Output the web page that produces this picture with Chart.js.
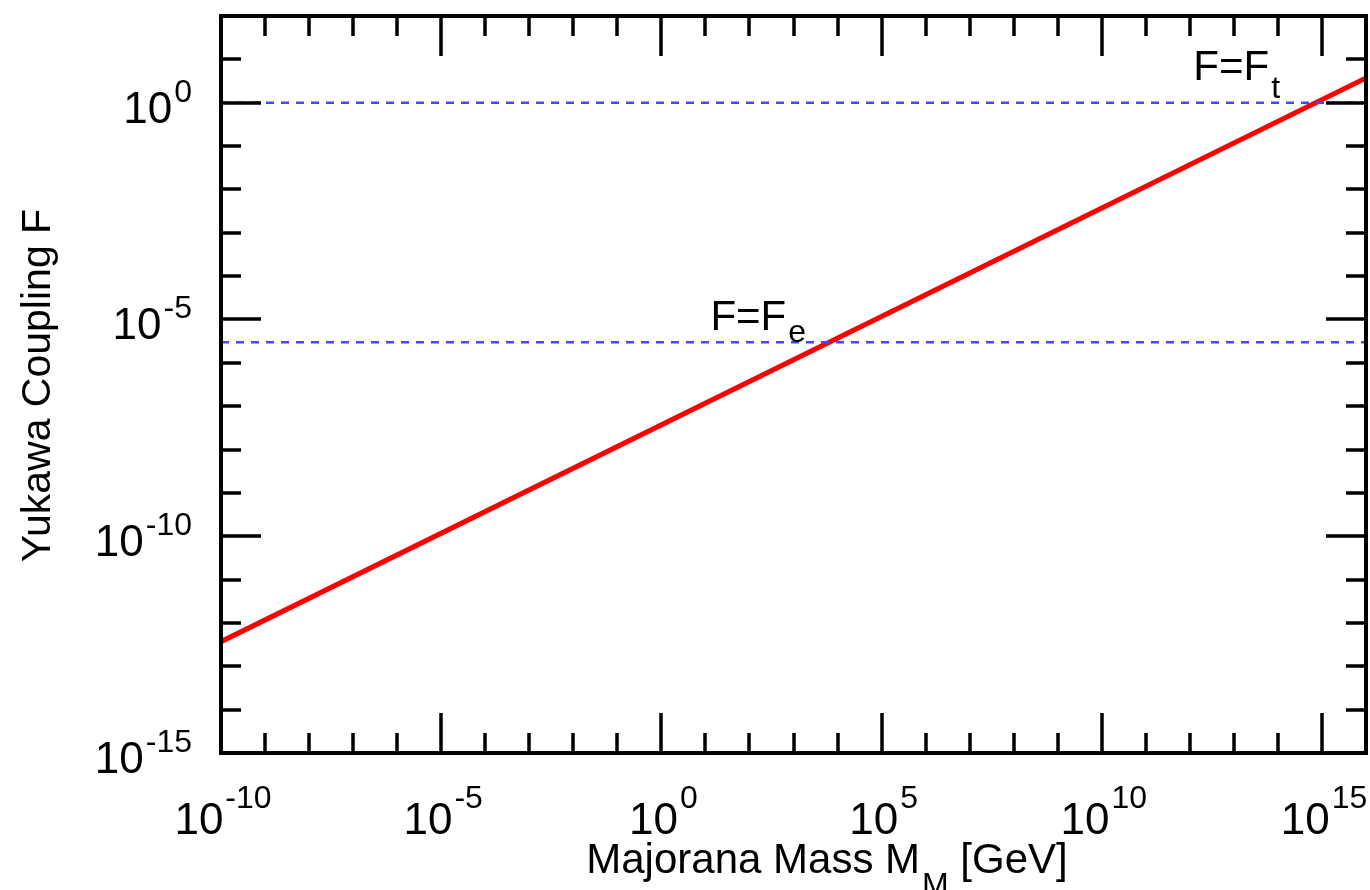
<!DOCTYPE html>
<html>
<head>
<meta charset="utf-8">
<script src="https://cdn.jsdelivr.net/npm/chart.js@4.4.1/dist/chart.umd.min.js"></script>
<style>
  html, body { margin: 0; padding: 0; background: #fff; }
  #wrap { width: 1370px; height: 890px; }
</style>
</head>
<body>
<div id="wrap"><canvas id="yukawaChart" width="1370" height="890"></canvas></div>
<script>
// Majorana mass range (GeV) and the seesaw Yukawa coupling at its ends
const massRange = [1e-10, 1e16];
const couplingCurve = [3.7e-13, 3.7];

// reference couplings drawn as dashed horizontals
const topYukawa = 1.0;
const electronYukawa = 3.0e-6;

// axis limits and labelled decades
const xExpMin = -10, xExpMax = 16;
const yExpMin = -15, yExpMax = 2;
const xLabelExps = [-10, -5, 0, 5, 10, 15];
const yLabelExps = [-15, -10, -5, 0];

const FONT = "'Liberation Sans', Arial, Helvetica, sans-serif";

function pow10Label(ctx, exp, x, y, align, supRise) {
    const base = '10', sup = String(exp);
    ctx.font = '44px ' + FONT;
    const wb = ctx.measureText(base).width;
    ctx.font = '32px ' + FONT;
    const ws = ctx.measureText(sup).width;
    const total = wb + 2 + ws;
    const start = align === 'center' ? x - total / 2 : x - total;
    ctx.textAlign = 'left';
    ctx.textBaseline = 'alphabetic';
    ctx.font = '44px ' + FONT;
    ctx.fillText(base, start, y);
    ctx.font = '32px ' + FONT;
    ctx.fillText(sup, start + wb + 2, y - supRise);
}

function subText(ctx, main, sub, x, y, drop) {
    ctx.textAlign = 'left';
    ctx.textBaseline = 'alphabetic';
    ctx.font = '42px ' + FONT;
    ctx.fillText(main, x, y);
    const w = ctx.measureText(main).width;
    ctx.font = '32px ' + FONT;
    ctx.fillText(sub, x + w + 2, y + drop);
}

// frame, inward ticks on all four sides, labels and annotations
const framePlugin = {
    id: 'frame',
    afterDraw(chart) {
        const { ctx, chartArea: a, scales: { x, y } } = chart;
        ctx.save();
        ctx.strokeStyle = '#000';
        ctx.fillStyle = '#000';
        ctx.lineWidth = 3.5;
        ctx.lineCap = 'butt';

        ctx.beginPath();
        for (let e = xExpMin; e <= xExpMax; e++) {
            const px = Math.round(x.getPixelForValue(Math.pow(10, e)));
            const len = e % 5 === 0 ? 40 : 20;
            ctx.moveTo(px, a.bottom); ctx.lineTo(px, a.bottom - len);
            ctx.moveTo(px, a.top); ctx.lineTo(px, a.top + len);
        }
        for (let e = yExpMin; e <= yExpMax; e++) {
            const py = Math.round(y.getPixelForValue(Math.pow(10, e)));
            const len = e % 5 === 0 ? 40 : 20;
            ctx.moveTo(a.left, py); ctx.lineTo(a.left + len, py);
            ctx.moveTo(a.right, py); ctx.lineTo(a.right - len, py);
        }
        ctx.stroke();

        ctx.lineWidth = 4;
        ctx.strokeRect(a.left, a.top, a.right - a.left, a.bottom - a.top);

        xLabelExps.forEach(e => {
            pow10Label(ctx, e, x.getPixelForValue(Math.pow(10, e)) + 2, a.bottom + 81, 'center', 26);
        });
        yLabelExps.forEach(e => {
            pow10Label(ctx, e, a.left - 29, y.getPixelForValue(Math.pow(10, e)) + 20, 'right', 21);
        });

        // axis titles
        ctx.save();
        ctx.translate(50, (a.top + a.bottom) / 2 + 1);
        ctx.rotate(-Math.PI / 2);
        ctx.font = '41px ' + FONT;
        ctx.textAlign = 'center';
        ctx.textBaseline = 'alphabetic';
        ctx.fillText('Yukawa Coupling F', 0, 0);
        ctx.restore();

        ctx.font = '42px ' + FONT;
        const t1 = 'Majorana Mass M';
        const t2 = ' [GeV]';
        const w1 = ctx.measureText(t1).width;
        const w3 = ctx.measureText(t2).width;
        ctx.font = '32px ' + FONT;
        const w2 = ctx.measureText('M').width;
        const tx = 827 - (w1 + w2 + w3 + 2) / 2;
        subText(ctx, t1, 'M', tx, 873, 22);
        ctx.font = '42px ' + FONT;
        ctx.fillText(t2, tx + w1 + w2 + 2, 873);

        // labels for the dashed reference couplings
        subText(ctx, 'F=F', 't', x.getPixelForValue(1.2e12), y.getPixelForValue(topYukawa) - 23, 18);
        subText(ctx, 'F=F', 'e', x.getPixelForValue(1.3e1), y.getPixelForValue(electronYukawa) - 12, 12);

        ctx.restore();
    }
};

const refColor = 'rgb(70, 70, 255)';

new Chart(document.getElementById('yukawaChart'), {
    type: 'line',
    data: {
        datasets: [
            {
                label: 'F_t',
                data: massRange.map(m => ({ x: m, y: topYukawa })),
                borderColor: refColor,
                borderWidth: 2.5,
                borderDash: [8, 7],
                pointRadius: 0
            },
            {
                label: 'F_e',
                data: massRange.map(m => ({ x: m, y: electronYukawa })),
                borderColor: refColor,
                borderWidth: 2.5,
                borderDash: [8, 7],
                pointRadius: 0
            },
            {
                label: 'F',
                data: massRange.map((m, i) => ({ x: m, y: couplingCurve[i] })),
                borderColor: '#ff0000',
                borderWidth: 5,
                pointRadius: 0
            }
        ]
    },
    options: {
        responsive: false,
        animation: false,
        devicePixelRatio: 1,
        layout: { padding: { left: 221, right: 4, top: 16, bottom: 137 } },
        plugins: { legend: { display: false }, tooltip: { enabled: false } },
        scales: {
            x: {
                type: 'logarithmic',
                min: Math.pow(10, xExpMin),
                max: Math.pow(10, xExpMax),
                display: false
            },
            y: {
                type: 'logarithmic',
                min: Math.pow(10, yExpMin),
                max: Math.pow(10, yExpMax),
                display: false
            }
        }
    },
    plugins: [framePlugin]
});
</script>
</body>
</html>
